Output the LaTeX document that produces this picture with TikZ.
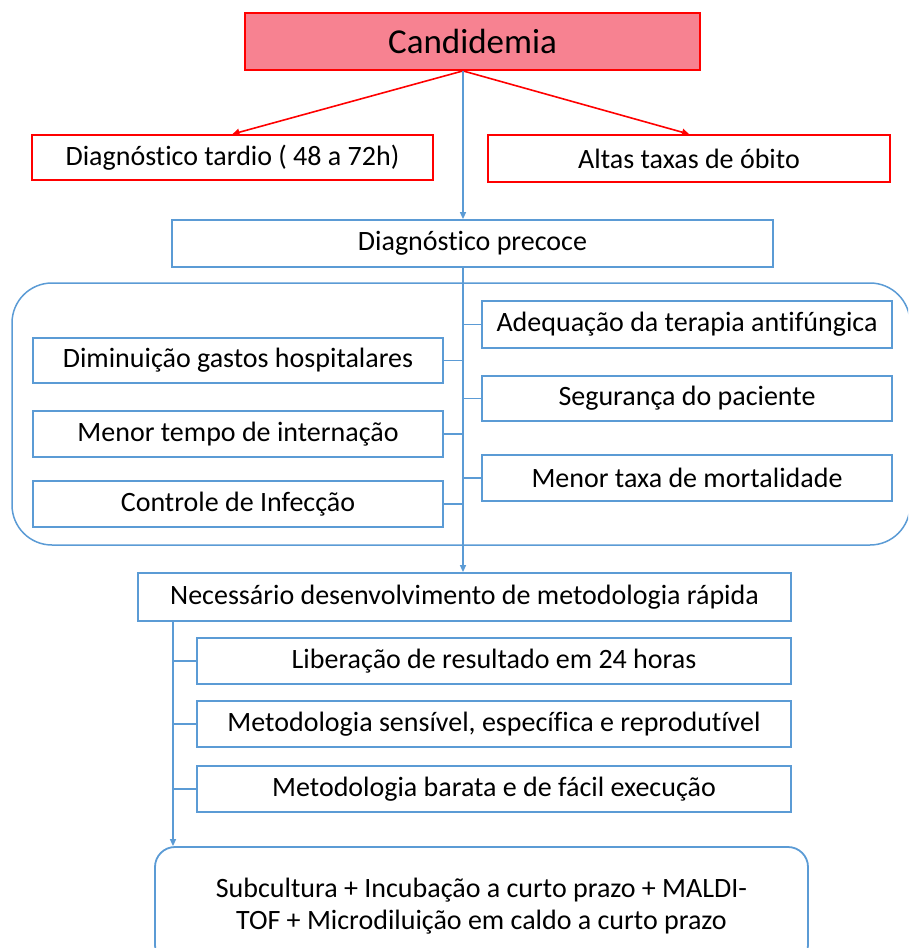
\documentclass[tikz,border=0pt]{standalone}
\usepackage{fontspec}
\setmainfont{Carlito}[Ligatures={NoCommon}]
\usetikzlibrary{arrows.meta}
\definecolor{boxblue}{RGB}{91,155,213}
\definecolor{candfill}{RGB}{247,130,145}
\newcommand\fsn{\fontsize{28}{32}\selectfont}
\newcommand\fsbig{\fontsize{35}{40}\selectfont}
\tikzset{
  bluebox/.style={draw=boxblue, line width=1.8pt, fill=white, inner sep=0pt, font=\fsn, text=black},
  redbox/.style={draw=red, line width=1.8pt, fill=white, inner sep=0pt, font=\fsn, text=black},
  bluearrow/.style={draw=boxblue, line width=1.3pt, -{Triangle[length=7pt,width=6pt]}},
  blueline/.style={draw=boxblue, line width=1.3pt},
  redarrow/.style={draw=red, line width=1.6pt, -{Triangle[length=7pt,width=7pt]}},
}
\begin{document}
\begin{tikzpicture}[x=1pt,y=-1pt]
\useasboundingbox (0,0) rectangle (908,948);
\clip (0,0) rectangle (908,948);
\coordinate (trunk) at (463,0);
\coordinate (trunkb) at (173,0);
% group frame
\node (group) [draw=boxblue, line width=1.5pt, rounded corners=40pt, minimum width=898pt, minimum height=262pt, inner sep=0pt] at (461,414) {};
% top
\node (cand) [draw=red, line width=1.8pt, fill=candfill, minimum width=455pt, minimum height=57pt, inner sep=0pt, font=\fsbig] at (472.5,41.5) {Candidemia};
\node (tardio) [redbox, minimum width=401pt, minimum height=45pt] at (232.5,157.5) {Diagnóstico tardio ( 48 a 72h)};
\node (altas) [redbox, minimum width=402pt, minimum height=47pt] at (689,158.5) {Altas taxas de óbito};
\node (prec) [bluebox, minimum width=601pt, minimum height=47pt] at (472.5,243.5) {Diagnóstico precoce};
% left column
\node (dimin) [bluebox, minimum width=410pt, minimum height=45pt] at (238,360.5) {Diminuição gastos hospitalares};
\node (tempo) [bluebox, minimum width=410pt, minimum height=46pt] at (238,434) {Menor tempo de internação};
\node (contr) [bluebox, minimum width=410pt, minimum height=46pt] at (238,504) {Controle de Infecção};
% right column
\node (adeq) [bluebox, minimum width=410pt, minimum height=47pt] at (687,324.5) {Adequação da terapia antifúngica};
\node (segur) [bluebox, minimum width=410pt, minimum height=45pt] at (687,398.5) {Segurança do paciente};
\node (mort) [bluebox, minimum width=410pt, minimum height=46pt] at (687,478) {Menor taxa de mortalidade};
% lower
\node (nec) [bluebox, minimum width=653pt, minimum height=48pt] at (464.5,597) {Necessário desenvolvimento de metodologia rápida};
\node (lib) [bluebox, minimum width=594pt, minimum height=46pt] at (494,661) {Liberação de resultado em 24 horas};
\node (sens) [bluebox, minimum width=594pt, minimum height=46pt] at (494,724) {Metodologia sensível, específica e reprodutível};
\node (barata) [bluebox, minimum width=594pt, minimum height=46pt] at (494,789) {Metodologia barata e de fácil execução};
\node (final) [draw=boxblue, line width=1.8pt, rounded corners=20pt, minimum width=653pt, minimum height=118pt, inner sep=0pt, font=\fsn, align=center] at (481.5,906) {Subcultura + Incubação a curto prazo + MALDI-\\TOF + Microdiluição em caldo a curto prazo};
% connectors top
\draw[redarrow] (trunk |- cand.south) -- (tardio.north);
\draw[redarrow] (trunk |- cand.south) -- (altas.north);
\draw[bluearrow] (trunk |- cand.south) -- (trunk |- prec.north);
\draw[bluearrow] (trunk |- prec.south) -- (trunk |- nec.north);
\draw[blueline] (dimin.east) -- (trunk |- dimin.east);
\draw[blueline] (tempo.east) -- (trunk |- tempo.east);
\draw[blueline] (contr.east) -- (trunk |- contr.east);
\draw[blueline] (adeq.west) -- (trunk |- adeq.west);
\draw[blueline] (segur.west) -- (trunk |- segur.west);
\draw[blueline] (mort.west) -- (trunk |- mort.west);
% connectors bottom
\draw[bluearrow] (trunkb |- nec.south) -- (trunkb |- final.north);
\draw[blueline] (lib.west) -- (trunkb |- lib.west);
\draw[blueline] (sens.west) -- (trunkb |- sens.west);
\draw[blueline] (barata.west) -- (trunkb |- barata.west);
\end{tikzpicture}
\end{document}
